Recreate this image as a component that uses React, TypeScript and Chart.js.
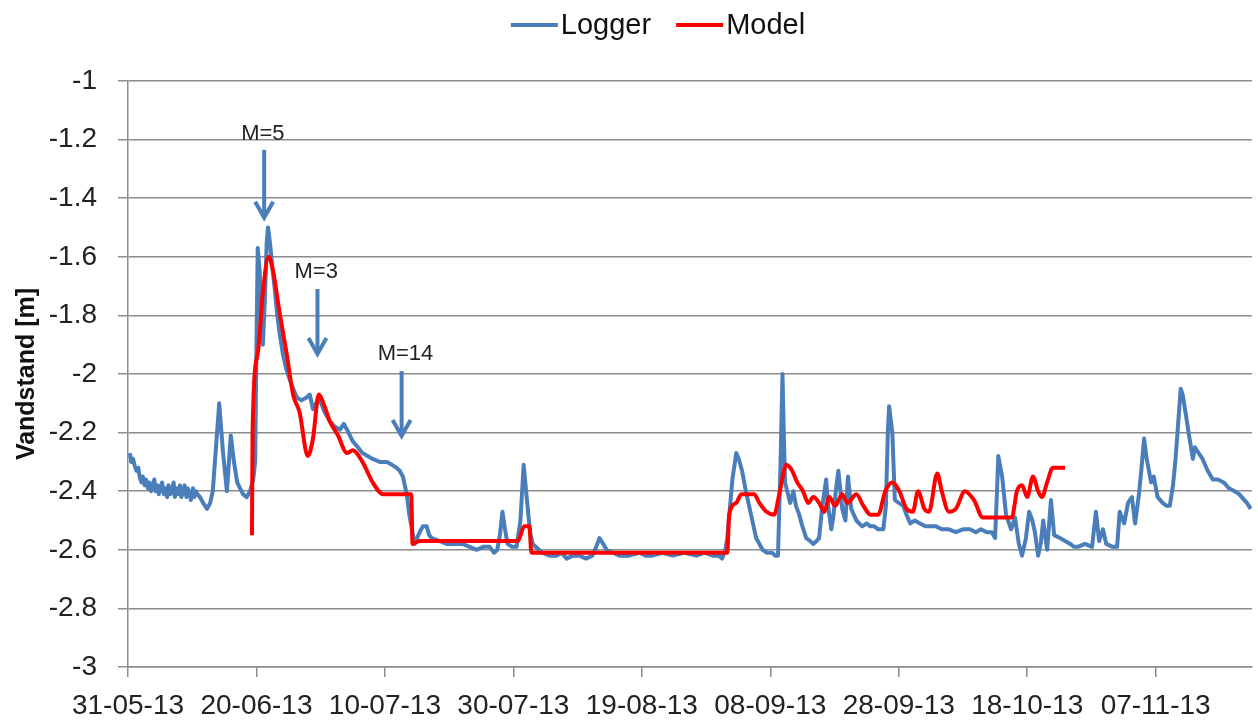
import React, { useEffect, useRef } from 'react';
import { Chart, registerables } from 'chart.js';

Chart.register(...registerables);

// ---- Data (x = days since 31-05-2013, y = water level in m) ----
const START_DATE_UTC = Date.UTC(2013, 4, 31);

const loggerDays = [
  0.3, 0.5, 0.8, 1.0, 1.3, 1.6, 1.8, 2.1, 2.3, 2.6, 2.8, 3.1, 3.3, 3.6, 3.8, 4.1, 4.3, 4.6, 4.8, 5.1,
  5.3, 5.6, 5.8, 6.1, 6.3, 6.6, 6.8, 7.1, 7.3, 7.6, 7.8, 8.1, 8.3, 8.6, 8.8, 9.1, 9.3, 9.6, 9.8, 10.1,
  10.3, 10.6, 10.8, 11.2, 11.7, 12.3, 12.8, 13.2, 13.7, 14.2, 14.8, 15.4, 16.0, 16.5, 17.0,
  17.9, 18.5, 19.0, 19.5, 19.8, 20.0, 20.2, 20.5, 20.8, 21.0, 21.3, 21.6, 21.8, 22.1, 22.4, 22.8, 23.2, 23.6, 24.1, 24.6,
  25.2, 25.7, 26.3, 27.0, 27.8, 28.3, 28.8, 29.3, 29.9, 30.6, 31.4, 32.2, 33.0, 33.6, 34.1, 35.0, 35.8, 36.5, 37.3, 38.1,
  39.2, 40.3, 41.1, 41.8, 42.3, 42.8, 43.4, 43.8, 44.2, 44.6, 45.0, 45.4, 45.9, 46.5, 46.9, 47.3, 48.5, 49.6, 50.8, 52.1,
  53.2, 54.3, 55.3, 56.3, 57.0, 57.5, 57.9, 58.3, 58.7, 59.1, 59.8, 60.5, 61.1, 61.6, 62.2, 62.6, 63.0, 64.5, 65.6, 66.7,
  67.5, 68.3, 69.3, 70.3, 71.3, 72.3, 72.9, 73.4, 74.0, 74.5, 75.5, 76.5, 78.0, 79.6, 80.6, 81.6, 83.2, 84.8, 86.6, 88.5,
  89.8, 91.0, 92.0, 92.5, 93.0, 93.3, 94.1, 94.7, 95.1, 95.6, 96.2, 96.7, 97.3, 97.8, 98.8, 99.5, 100.3, 100.8, 101.2, 101.6,
  101.9, 102.1, 102.3, 103.1, 103.6, 104.0, 104.5, 105.0, 105.6, 106.2, 106.7, 107.2, 107.6, 108.1, 108.7, 109.0, 109.5, 109.8, 110.2, 110.6,
  111.2, 111.7, 112.1, 112.6, 113.4, 114.3, 115.0, 115.6, 116.2, 116.8, 117.6, 118.0, 118.3, 118.5, 119.0, 119.4, 120.0, 120.7, 121.2, 121.8,
  122.5, 123.3, 124.2, 125.0, 125.8, 126.7, 127.8, 128.9, 130.0, 131.1, 132.0, 132.8, 133.7, 134.5, 135.0, 135.3, 135.5, 136.1, 136.7, 137.5,
  138.1, 138.7, 139.2, 139.8, 140.3, 140.8, 141.2, 141.7, 142.1, 142.5, 143.1, 143.7, 144.2, 145.1, 145.9, 146.7, 147.3, 147.9, 149.0, 150.1,
  150.7, 151.2, 151.8, 152.3, 153.3, 154.0, 154.4, 155.1, 155.7, 156.3, 156.8, 157.4, 157.8, 158.2, 158.6, 159.3, 159.7, 160.3, 161.1, 161.7,
  162.2, 162.7, 163.1, 163.5, 163.9, 164.2, 164.5, 165.2, 165.8, 166.1, 166.7, 167.3, 168.1, 168.9, 169.7, 170.6, 171.4, 172.3, 173.0, 173.4,
  174.2, 174.8,
];

const loggerLevels = [
  -2.27, -2.30, -2.29, -2.31, -2.33, -2.32, -2.35, -2.37, -2.35, -2.38, -2.36, -2.39, -2.37, -2.40, -2.38, -2.36, -2.40, -2.38, -2.41, -2.39,
  -2.37, -2.41, -2.39, -2.42, -2.38, -2.41, -2.40, -2.37, -2.42, -2.39, -2.41, -2.38, -2.42, -2.40, -2.38, -2.42, -2.39, -2.41, -2.43, -2.39,
  -2.42, -2.40, -2.41, -2.42, -2.44, -2.46, -2.44, -2.40, -2.25, -2.10, -2.27, -2.40, -2.21, -2.30, -2.37,
  -2.41, -2.42, -2.40, -2.36, -2.30, -1.90, -1.57, -1.65, -1.85, -1.90, -1.75, -1.55, -1.50, -1.55, -1.62, -1.70, -1.79, -1.86, -1.93, -1.98,
  -2.02, -2.05, -2.08, -2.09, -2.08, -2.07, -2.12, -2.10, -2.09, -2.13, -2.16, -2.18, -2.19, -2.17, -2.19, -2.23, -2.25, -2.27, -2.28, -2.29,
  -2.30, -2.30, -2.31, -2.32, -2.33, -2.35, -2.41, -2.48, -2.53, -2.58, -2.56, -2.54, -2.52, -2.52, -2.55, -2.56, -2.57, -2.58, -2.58, -2.58,
  -2.59, -2.60, -2.59, -2.59, -2.61, -2.60, -2.55, -2.47, -2.53, -2.58, -2.59, -2.59, -2.50, -2.31, -2.45, -2.54, -2.58, -2.61, -2.62, -2.62,
  -2.61, -2.63, -2.62, -2.62, -2.63, -2.62, -2.59, -2.56, -2.58, -2.60, -2.61, -2.62, -2.62, -2.61, -2.62, -2.62, -2.61, -2.62, -2.61, -2.62,
  -2.61, -2.62, -2.62, -2.63, -2.60, -2.56, -2.36, -2.27, -2.29, -2.33, -2.40, -2.45, -2.51, -2.56, -2.60, -2.61, -2.61, -2.62, -2.62, -2.30,
  -2.00, -2.20, -2.37, -2.44, -2.40, -2.45, -2.48, -2.52, -2.56, -2.57, -2.58, -2.57, -2.56, -2.45, -2.36, -2.45, -2.53, -2.49, -2.40, -2.33,
  -2.46, -2.50, -2.35, -2.46, -2.50, -2.52, -2.51, -2.52, -2.52, -2.53, -2.53, -2.45, -2.20, -2.11, -2.20, -2.43, -2.44, -2.45, -2.48, -2.51,
  -2.50, -2.51, -2.52, -2.52, -2.52, -2.53, -2.53, -2.54, -2.53, -2.53, -2.54, -2.53, -2.54, -2.54, -2.56, -2.40, -2.28, -2.35, -2.48, -2.53,
  -2.49, -2.58, -2.62, -2.56, -2.47, -2.50, -2.54, -2.62, -2.58, -2.50, -2.60, -2.43, -2.55, -2.56, -2.57, -2.58, -2.59, -2.59, -2.58, -2.59,
  -2.47, -2.57, -2.53, -2.58, -2.59, -2.59, -2.47, -2.51, -2.44, -2.42, -2.51, -2.41, -2.32, -2.22, -2.29, -2.37, -2.35, -2.42, -2.44, -2.45,
  -2.45, -2.38, -2.29, -2.17, -2.05, -2.07, -2.11, -2.21, -2.29, -2.25, -2.27, -2.29, -2.33, -2.36, -2.36, -2.37, -2.39, -2.40, -2.41, -2.42,
  -2.44, -2.46,
];

const modelDays = [
  19.3, 19.4, 20.2, 21.0, 21.9, 22.6, 23.6, 24.7, 25.7, 26.7, 28.0, 28.8, 29.7, 30.6, 31.4, 32.7, 34.1, 35.0, 36.5, 38.1,
  39.7, 41.8, 44.1, 44.3, 45.4, 48.5, 54.7, 60.7, 61.7, 62.5, 62.8, 93.3, 93.6, 94.7, 95.5, 97.5, 98.3, 99.4, 100.6, 101.4,
  102.5, 103.4, 104.2, 105.1, 105.9, 106.7, 107.6, 108.4, 109.2, 110.1, 111.2, 112.0, 113.4, 114.5, 115.6, 116.8, 117.9, 119.0, 120.1, 121.2,
  122.2, 123.0, 124.0, 124.7, 126.0, 126.7, 127.8, 128.9, 130.3, 131.7, 133.1, 134.5, 137.6, 138.4, 139.2, 140.0, 140.9, 141.7, 142.3, 143.1,
  144.0, 144.8, 145.9,
];

const modelLevels = [
  -2.55, -2.19, -1.93, -1.72, -1.60, -1.65, -1.79, -1.93, -2.07, -2.13, -2.28, -2.22, -2.07, -2.11, -2.16, -2.21, -2.27, -2.26, -2.30, -2.37,
  -2.41, -2.41, -2.41, -2.58, -2.57, -2.57, -2.57, -2.57, -2.52, -2.52, -2.61, -2.61, -2.48, -2.44, -2.41, -2.41, -2.44, -2.47, -2.48, -2.41,
  -2.31, -2.33, -2.37, -2.40, -2.44, -2.42, -2.44, -2.47, -2.42, -2.45, -2.41, -2.44, -2.41, -2.45, -2.48, -2.48, -2.40, -2.37, -2.40, -2.46,
  -2.47, -2.40, -2.46, -2.47, -2.34, -2.40, -2.47, -2.46, -2.40, -2.43, -2.49, -2.49, -2.49, -2.40, -2.38, -2.42, -2.35, -2.40, -2.42, -2.37,
  -2.32, -2.32, -2.32,
];

// Arrow annotations (in data units)
const annotLabels = ['M=5', 'M=3', 'M=14'];
const annotArrowDay = [21.2, 29.5, 42.6];
const annotArrowTop = [-1.235, -1.71, -1.99];
const annotArrowTip = [-1.47, -1.935, -2.215];
const annotTextDay = [21.0, 29.3, 43.2];
const annotTextLevel = [-1.18, -1.65, -1.93];

const seriesNames = ['Logger', 'Model'];
const seriesColors = ['#4A7EBB', '#FF0000'];

const FONT = "'Liberation Sans', Arial, sans-serif";

function fmtDate(day: number): string {
  const d = new Date(START_DATE_UTC + Math.round(day) * 86400000);
  const dd = String(d.getUTCDate()).padStart(2, '0');
  const mm = String(d.getUTCMonth() + 1).padStart(2, '0');
  const yy = String(d.getUTCFullYear() % 100).padStart(2, '0');
  return `${dd}-${mm}-${yy}`;
}

const arrowPlugin = {
  id: 'arrowAnnotations',
  afterDatasetsDraw(chart: any) {
    const { ctx, scales } = chart;
    const xs = scales.x;
    const ys = scales.y;
    ctx.save();
    for (let i = 0; i < annotLabels.length; i++) {
      const x = xs.getPixelForValue(annotArrowDay[i]);
      const y0 = ys.getPixelForValue(annotArrowTop[i]);
      const y1 = ys.getPixelForValue(annotArrowTip[i]);
      ctx.strokeStyle = '#4A7EBB';
      ctx.lineWidth = 4;
      ctx.lineCap = 'butt';
      ctx.beginPath();
      ctx.moveTo(x, y0);
      ctx.lineTo(x, y1 - 2);
      ctx.stroke();
      ctx.lineJoin = 'miter';
      ctx.beginPath();
      ctx.moveTo(x - 9, y1 - 17);
      ctx.lineTo(x, y1 - 1);
      ctx.lineTo(x + 9, y1 - 17);
      ctx.stroke();
      const tx = xs.getPixelForValue(annotTextDay[i]);
      const ty = ys.getPixelForValue(annotTextLevel[i]);
      ctx.fillStyle = '#222';
      ctx.font = `22px ${FONT}`;
      ctx.textAlign = 'center';
      ctx.textBaseline = 'middle';
      ctx.fillText(annotLabels[i], tx, ty);
    }
    ctx.restore();
  },
};

const legendPlugin = {
  id: 'customLegend',
  afterDraw(chart: any) {
    const { ctx } = chart;
    ctx.save();
    ctx.font = `29px ${FONT}`;
    ctx.textBaseline = 'middle';
    ctx.textAlign = 'left';
    const lineLen = 47;
    const gap = 3;
    const itemGap = 25;
    const widths = seriesNames.map((n) => lineLen + gap + ctx.measureText(n).width);
    const total = widths.reduce((a, b) => a + b, 0) + itemGap * (seriesNames.length - 1);
    let x = chart.width / 2 - total / 2 + 29;
    const y = 25;
    seriesNames.forEach((n, i) => {
      ctx.strokeStyle = seriesColors[i];
      ctx.lineWidth = 4;
      ctx.beginPath();
      ctx.moveTo(x, y);
      ctx.lineTo(x + lineLen, y);
      ctx.stroke();
      ctx.fillStyle = '#111';
      ctx.fillText(n, x + lineLen + gap, y + 1);
      x += widths[i] + itemGap;
    });
    ctx.restore();
  },
};

export default function App() {
  const canvasRef = useRef<HTMLCanvasElement | null>(null);

  useEffect(() => {
    document.body.style.margin = '0';
    const canvas = canvasRef.current;
    if (!canvas) return;
    const loggerData = loggerDays.map((d, i) => ({ x: d, y: loggerLevels[i] }));
    const modelData = modelDays.map((d, i) => ({ x: d, y: modelLevels[i] }));
    const gridColor = '#8C8C8C';
    const chart = new Chart(canvas, {
      type: 'line',
      data: {
        datasets: [
          {
            label: seriesNames[0],
            data: loggerData,
            borderColor: seriesColors[0],
            borderWidth: 4,
            pointRadius: 0,
            tension: 0,
            borderJoinStyle: 'round',
            order: 1,
          },
          {
            label: seriesNames[1],
            data: modelData,
            borderColor: seriesColors[1],
            borderWidth: 4,
            pointRadius: 0,
            cubicInterpolationMode: 'monotone',
            borderJoinStyle: 'round',
            order: 0,
          },
        ],
      },
      options: {
        animation: false,
        responsive: false,
        devicePixelRatio: 1,
        layout: { padding: { top: 81, left: 8, right: 6, bottom: 0 } },
        plugins: {
          legend: { display: false },
          tooltip: { enabled: false },
        },
        scales: {
          x: {
            type: 'linear',
            min: 0,
            max: 175,
            afterFit(s: any) {
              s.height = 55;
            },
            afterBuildTicks(s: any) {
              s.ticks = [0, 20, 40, 60, 80, 100, 120, 140, 160].map((v) => ({ value: v }));
            },
            ticks: {
              callback: (v: any) => fmtDate(Number(v)),
              font: { family: FONT, size: 28 },
              color: '#222',
              padding: 12,
              maxRotation: 0,
              autoSkip: false,
            },
            grid: {
              drawOnChartArea: false,
              drawTicks: true,
              tickLength: 10,
              color: gridColor,
              lineWidth: 1.5,
            },
            border: { color: gridColor, width: 1.5 },
          },
          y: {
            min: -3,
            max: -1,
            afterFit(s: any) {
              s.width = 120;
            },
            ticks: {
              stepSize: 0.2,
              callback: (v: any) => String(Number(Number(v).toFixed(1))),
              font: { family: FONT, size: 28 },
              color: '#222',
              padding: 21,
            },
            grid: {
              color: gridColor,
              lineWidth: 1.5,
              tickLength: 10,
            },
            border: { color: gridColor, width: 1.5 },
            title: {
              display: true,
              text: 'Vandstand [m]',
              font: { family: FONT, size: 25, weight: 'bold' },
              color: '#111',
              padding: { top: 4, bottom: 0 },
            },
          },
        },
      },
      plugins: [arrowPlugin, legendPlugin],
    } as any);
    return () => chart.destroy();
  }, []);

  return (
    <div style={{ width: 1258, height: 722 }}>
      <canvas ref={canvasRef} width={1258} height={722} style={{ display: 'block' }} />
    </div>
  );
}
